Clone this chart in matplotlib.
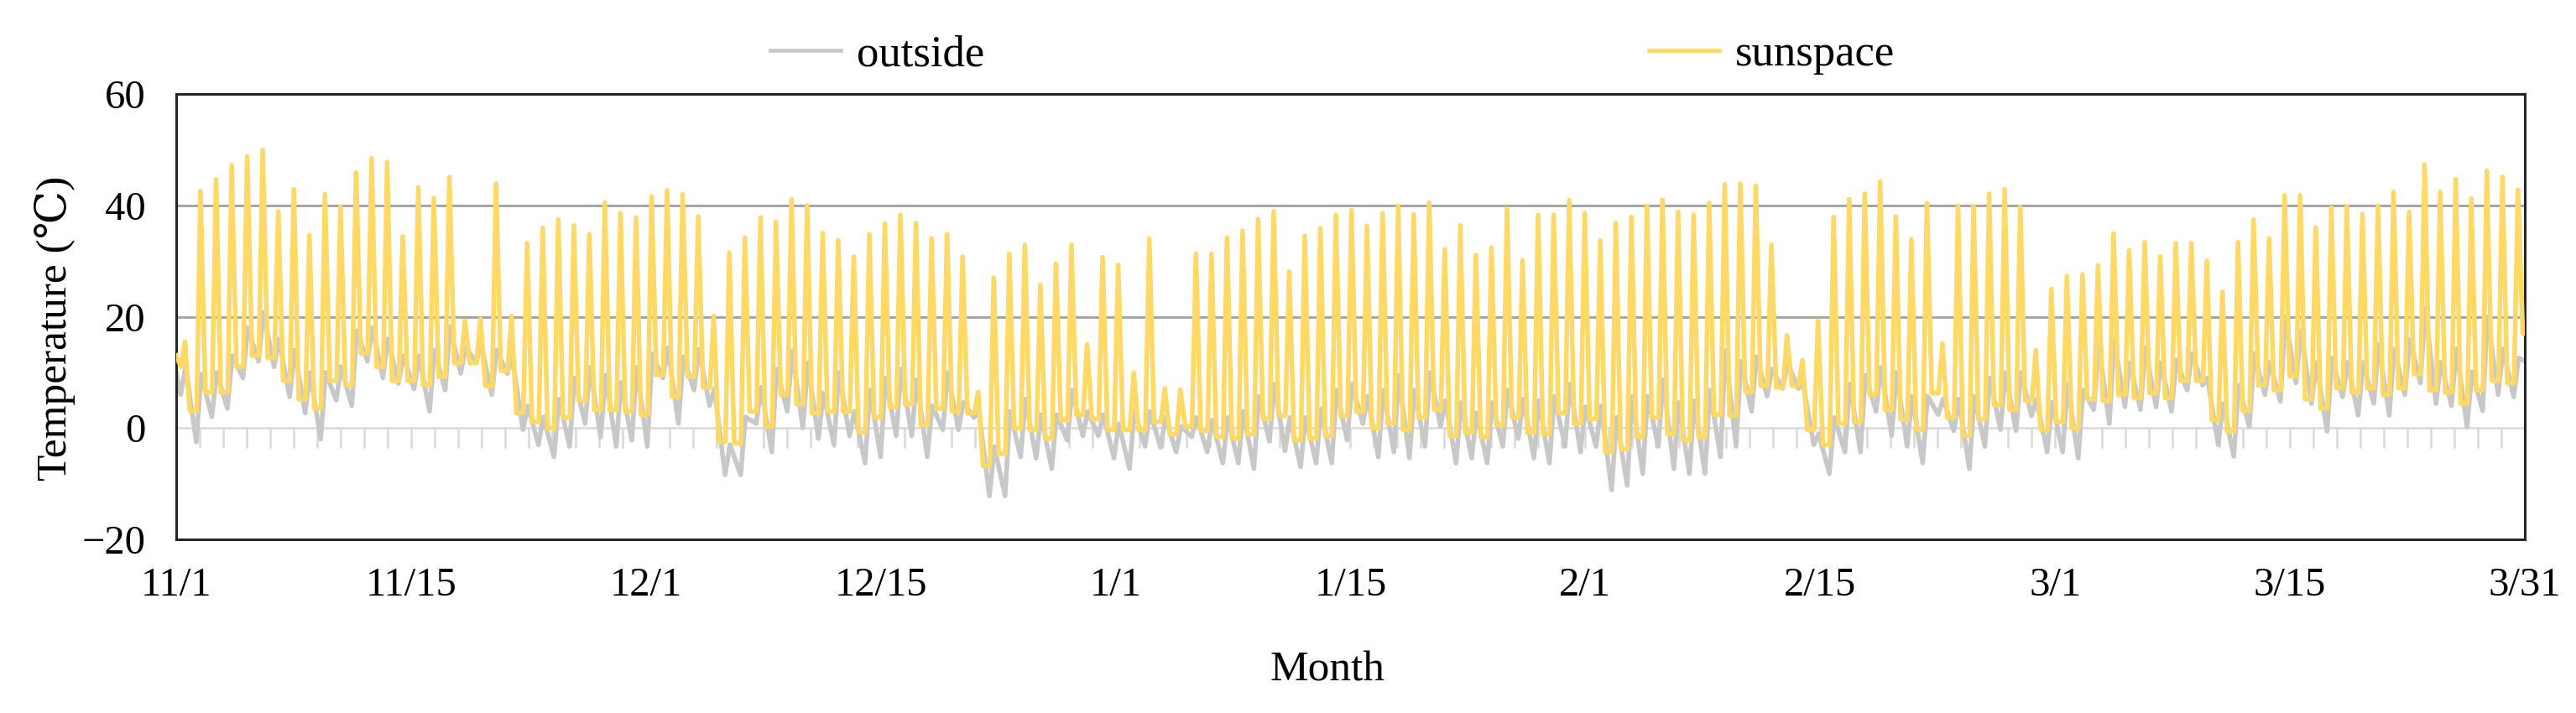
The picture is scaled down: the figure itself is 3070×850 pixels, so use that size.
import numpy as np
import matplotlib
matplotlib.use("Agg")
import matplotlib.pyplot as plt
from matplotlib.lines import Line2D

plt.rcParams['font.family'] = ['Liberation Serif', 'DejaVu Serif']

# daily values, 11/1 .. 3/31 (151 days)
sun_max = [15.5, 42.6, 44.7, 47.2, 48.8, 50.0, 38.9, 42.9, 34.6, 42.0,
           39.8, 45.9, 48.4, 47.8, 34.4, 43.2, 41.3, 45.1, 19.3, 19.6,
           43.9, 20.1, 33.2, 35.9, 37.5, 36.4, 34.8, 40.5, 38.6, 37.8,
           41.6, 42.7, 42.0, 38.0, 20.1, 31.5, 34.2, 37.8, 37.0, 41.1,
           40.0, 35.0, 33.7, 30.8, 34.8, 36.7, 38.3, 36.8, 34.0, 34.8,
           30.8, 6.5, 27.0, 31.3, 32.9, 25.7, 29.5, 32.9, 15.0, 30.7,
           29.3, 9.9, 34.0, 7.1, 6.9, 31.3, 31.3, 34.2, 35.4, 37.5,
           38.9, 28.1, 34.5, 35.9, 38.3, 39.1, 36.3, 38.6, 39.9, 38.4,
           40.5, 32.1, 36.4, 31.1, 32.4, 39.4, 30.1, 38.3, 38.3, 40.9,
           38.6, 33.7, 36.8, 37.9, 39.9, 41.0, 38.8, 38.3, 40.4, 43.8,
           43.9, 43.5, 32.9, 16.7, 12.2, 19.3, 37.9, 41.1, 42.1, 44.3,
           38.0, 33.9, 40.4, 15.2, 39.9, 39.9, 42.1, 42.9, 39.7, 14.0,
           25.0, 27.3, 27.6, 29.2, 34.9, 31.9, 33.4, 30.8, 33.2, 33.2,
           30.0, 24.5, 33.4, 37.4, 34.0, 41.8, 41.8, 36.0, 39.6, 39.8,
           38.4, 39.9, 42.4, 38.8, 47.3, 42.4, 44.7, 41.2, 46.2, 45.1,
           42.8]
sun_min = [11.0, 3.1, 6.4, 6.4, 11.0, 13.0, 12.6, 8.5, 5.2, 3.5,
           8.5, 7.7, 13.4, 11.0, 8.5, 8.5, 7.7, 9.2, 11.7, 11.7,
           7.6, 10.3, 2.7, 1.1, 0.0, 1.9, 4.9, 3.3, 3.3, 3.0,
           2.4, 9.5, 5.7, 9.2, 7.3, -2.4, -2.7, 3.0, 0.3, 6.0,
           4.3, 2.7, 3.0, 3.0, -0.8, 1.9, 3.8, 4.3, 0.5, 3.5,
           3.0, 2.7, -6.8, -4.6, 0.0, -0.3, -1.9, 1.4, 2.4, 1.6,
           -0.3, -0.3, -0.3, 1.1, -1.1, 0.3, -0.5, -1.6, -1.9, -1.1,
           1.6, 2.2, -2.2, -1.9, -1.4, 2.2, 3.0, 0.0, 0.8, -0.3,
           1.9, 3.3, -1.4, -0.8, -1.6, 0.5, 1.9, -0.8, -1.1, 2.7,
           0.8, 1.6, -4.3, -3.8, -1.6, 1.9, -1.1, -2.2, -1.6, 2.4,
           2.2, 6.5, 7.6, 7.3, 7.6, -0.3, -3.0, 0.8, 1.1, 6.0,
           3.3, 1.6, -0.3, 6.3, 1.9, -1.4, 1.6, 4.1, 3.3, 4.9,
           -0.3, 1.1, 0.0, 5.2, 4.9, 6.0, 5.4, 6.3, 5.4, 8.5,
           8.5, 1.5, -0.6, 3.1, 7.7, 6.8, 9.3, 5.2, 3.5, 7.2,
           6.4, 7.2, 6.0, 7.2, 9.7, 6.8, 6.4, 4.4, 6.8, 8.5,
           8.1]
out_max = [11.0, 9.7, 10.0, 13.0, 18.0, 20.8, 16.0, 14.0, 10.0, 10.0,
           11.0, 17.5, 18.0, 16.0, 13.0, 13.0, 14.0, 18.2, 14.4, 15.0,
           14.0, 12.8, 4.0, 2.0, 5.2, 9.0, 10.9, 9.5, 8.2, 10.9,
           13.3, 14.4, 12.8, 14.1, 7.0, -3.0, 2.0, 7.3, 10.6, 13.9,
           11.7, 6.3, 10.0, 3.0, 6.8, 9.0, 10.6, 8.7, 4.0, 10.0,
           4.6, 3.0, -3.3, 3.0, 5.2, 2.4, 2.4, 6.8, 3.0, 2.4,
           0.8, 3.0, 3.0, 1.9, 0.3, 1.9, 1.4, 1.9, 3.0, 5.7,
           7.9, 1.9, 1.9, 3.5, 6.8, 7.9, 5.7, 6.8, 9.5, 6.8,
           10.0, 4.9, 4.6, 2.7, 4.6, 6.8, 5.2, 4.9, 5.7, 7.9,
           3.8, 4.0, 1.9, 5.7, 5.7, 8.7, 4.6, 4.9, 6.8, 13.9,
           12.0, 12.8, 10.6, 11.7, 7.9, -1.0, 1.9, 7.9, 9.5, 10.9,
           10.0, 5.7, 5.7, 5.2, 5.2, 5.7, 9.0, 10.0, 10.0, 5.2,
           4.6, 7.9, 6.8, 15.0, 16.0, 11.7, 14.4, 11.7, 12.2, 13.4,
           9.0, 4.4, 7.7, 13.4, 11.8, 20.0, 17.5, 11.8, 12.6, 11.8,
           11.8, 15.0, 14.2, 15.9, 21.6, 11.8, 14.2, 10.1, 20.0, 14.2,
           12.6]
out_min = [6.0, -2.5, 2.0, 3.5, 9.0, 12.0, 11.0, 5.6, 2.7, -2.0,
           5.0, 4.0, 12.0, 9.0, 8.0, 7.0, 3.0, 6.8, 9.8, 12.0,
           6.0, 9.8, -0.3, -3.0, -5.2, -3.3, 0.8, -1.6, -3.3, -2.2,
           -3.3, 9.0, 0.8, 6.8, 4.0, -8.4, -8.4, 0.8, -4.3, 3.0,
           0.0, -1.9, -3.0, -1.4, -6.3, -5.2, -1.4, -1.4, -5.2, -0.3,
           -0.3, 1.9, -12.2, -12.2, -5.2, -5.4, -7.3, -2.2, -1.4, -1.4,
           -5.4, -7.3, -3.3, -3.5, -4.3, -1.6, -4.3, -6.3, -6.3, -7.3,
           -2.4, -4.1, -7.0, -6.3, -6.3, -2.2, 0.8, -5.2, -4.3, -5.4,
           -3.3, 0.3, -6.3, -5.4, -6.3, -3.3, -1.9, -5.4, -6.3, -3.3,
           -4.3, -3.3, -11.1, -10.3, -8.2, -3.3, -7.3, -8.2, -8.2, -5.2,
           -3.3, 3.0, 5.7, 7.1, 7.1, -3.0, -8.2, -4.3, -4.3, 3.0,
           -1.4, -3.3, -6.3, 2.4, -0.5, -7.3, -3.3, -0.3, -0.5, 2.2,
           -4.3, -4.3, -5.4, 3.3, 0.8, 3.8, 3.3, 3.8, 3.0, 6.8,
           7.7, -3.0, -5.1, 0.2, 6.0, 4.8, 8.1, 4.4, -0.6, 5.6,
           2.3, 4.4, 2.3, 6.0, 8.1, 4.4, 4.0, 0.2, 3.1, 6.0,
           5.6]
# values at the very start (11/1 0:00) and end (3/31 24:00)
sun_start, sun_end = 13.0, 17.0
out_start, out_end = 10.0, 12.0

date_labels = ['11/1', '11/15', '12/1', '12/15', '1/1', '1/15',
               '2/1', '2/15', '3/1', '3/15', '3/31']

n = len(sun_max)
d = np.arange(n)
sun_next = np.append(sun_min[1:], sun_end)

# morning low, midday peak, evening drop for each day
xs = np.column_stack([d + 7.5 / 24, d + 13.5 / 24, d + 21 / 24]).ravel()
ys = np.column_stack([sun_min, sun_max, sun_next]).ravel()
xs = np.concatenate([[0], xs, [n]])
ys = np.concatenate([[sun_start], ys, [sun_end]])

xo = np.column_stack([d + 7 / 24, d + 14.5 / 24]).ravel()
yo = np.column_stack([out_min, out_max]).ravel()
xo = np.concatenate([[0], xo, [n]])
yo = np.concatenate([[out_start], yo, [out_end]])

c_out = '#C8C8C8'
c_sun = '#FFD966'

fig = plt.figure(figsize=(30.7, 8.5), dpi=100)
ax = fig.add_axes([0.0684, 0.2435, 0.9117, 0.6247])

# gridlines and the little ticks hanging under the 0 line
ax.axhline(20, color='#A6A6A6', lw=2.2, zorder=1)
ax.axhline(40, color='#A6A6A6', lw=2.2, zorder=1)
ax.axhline(0, color='#D9D9D9', lw=1.8, zorder=1)
ax.vlines(np.linspace(0, n, 101), -3.5, 0, color='#D9D9D9', lw=1.8, zorder=1)

ax.plot(xo, yo, color=c_out, lw=4.0, zorder=2, solid_joinstyle='round')
ax.plot(xs, ys, color=c_sun, lw=4.0, zorder=3, solid_joinstyle='round')

ax.set_xlim(0, n)
ax.set_ylim(-20, 60)
ax.set_yticks([-20, 0, 20, 40, 60])
ax.set_xticks(np.arange(11) * n / 10)
ax.set_xticklabels(date_labels)
ax.tick_params(axis='both', length=0, labelsize=35)
ax.tick_params(axis='y', pad=26)
ax.tick_params(axis='x', pad=24)
for s in ax.spines.values():
    s.set_color('#262626')
    s.set_linewidth(2.2)

ax.set_xlabel('Month', fontsize=37)
ax.xaxis.set_label_coords(0.49, -0.25)
ax.set_ylabel('Temperature (\u2103)', fontsize=37)
ax.yaxis.set_label_coords(-0.043, 0.473)

handles = [Line2D([], [], color=c_out, lw=3.3), Line2D([], [], color=c_sun, lw=3.3)]
fig.legend(handles, ['outside', 'sunspace'], loc='center left',
           bbox_to_anchor=(0.299, 0.9235), ncol=2, frameon=False,
           fontsize=38, handlelength=1.6, handletextpad=0.35,
           columnspacing=15.0, borderpad=0, borderaxespad=0)

fig.savefig('out.png', dpi=100)
